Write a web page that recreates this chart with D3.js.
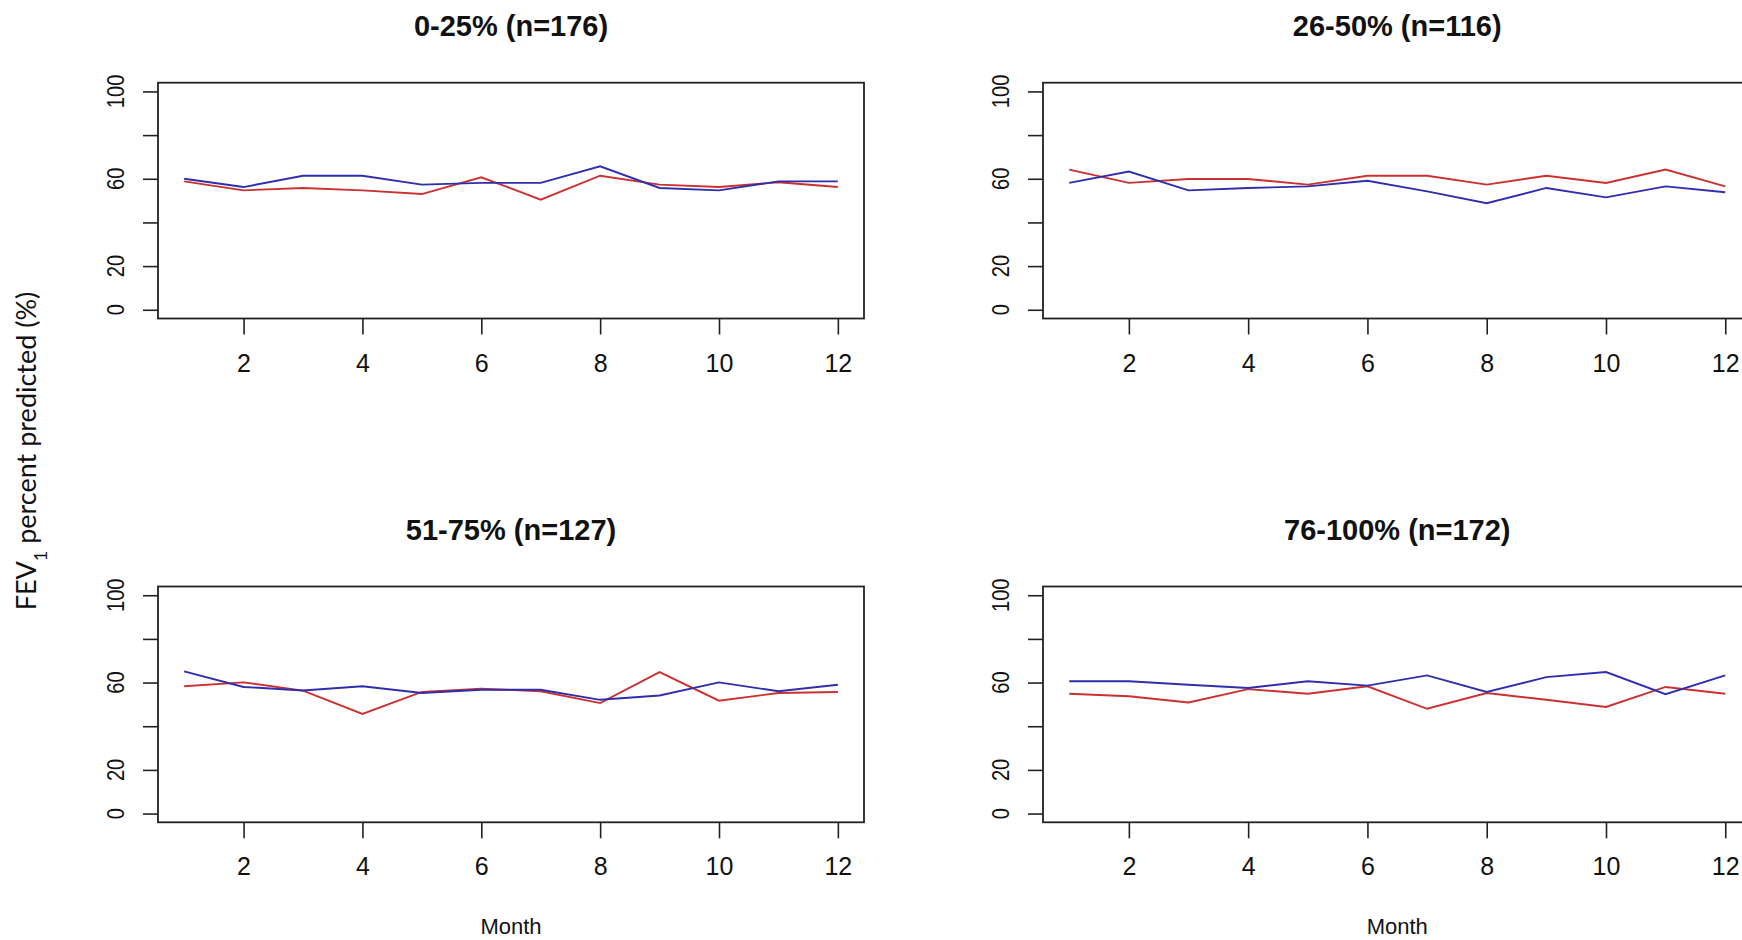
<!DOCTYPE html>
<html>
<head>
<meta charset="utf-8">
<script src="https://cdn.jsdelivr.net/npm/d3@7"></script>
<style>
  body { margin: 0; background: #fff; }
  svg { display: block; }
  text { font-family: "Liberation Sans", Arial, sans-serif; fill: #111; }
</style>
</head>
<body>
<svg id="chart" width="1742" height="940"></svg>
<script>
// months on the x axis
const months = [1, 2, 3, 4, 5, 6, 7, 8, 9, 10, 11, 12];
const xTicks = [2, 4, 6, 8, 10, 12];
const yTicks = [0, 20, 40, 60, 80, 100];
const yTickLabels = [0, 20, 60, 100]; // R drops the ones that would overlap

const titles = ["0-25% (n=176)", "26-50% (n=116)", "51-75% (n=127)", "76-100% (n=172)"];

// FEV1 % predicted
const q1Red  = [58.8, 54.7, 55.8, 54.7, 53.0, 60.7, 50.4, 61.4, 57.3, 56.2, 58.4, 56.2];
const q1Blue = [60.0, 56.2, 61.4, 61.4, 57.3, 58.1, 58.1, 65.7, 55.8, 54.7, 58.8, 58.8];
const q2Red  = [64.2, 58.1, 59.9, 59.9, 57.3, 61.4, 61.4, 57.3, 61.4, 58.1, 64.2, 56.5];
const q2Blue = [58.1, 63.3, 54.7, 55.8, 56.5, 59.1, 54.2, 48.8, 55.8, 51.5, 56.5, 53.8];
const q3Red  = [58.3, 60.1, 56.3, 45.6, 55.7, 57.2, 56.0, 50.6, 64.8, 51.7, 55.2, 55.7];
const q3Blue = [65.1, 58.0, 56.4, 58.3, 55.2, 56.7, 56.7, 52.1, 54.1, 60.1, 56.0, 59.0];
const q4Red  = [54.9, 53.7, 50.9, 57.0, 54.9, 58.3, 48.0, 55.2, 52.1, 48.8, 58.0, 54.9];
const q4Blue = [60.6, 60.6, 59.0, 57.5, 60.6, 58.6, 63.3, 55.7, 62.5, 64.8, 54.7, 63.3];

const redCol = "#cc3030", blueCol = "#2e2eae";

const panels = [
  { title: titles[0], red: q1Red, blue: q1Blue, x0: 158, x1: 864, y0: 82.7, y1: 318.5, month: false },
  { title: titles[1], red: q2Red, blue: q2Blue, x0: 1043, x1: 1751.5, y0: 82.7, y1: 318.5, month: false },
  { title: titles[2], red: q3Red, blue: q3Blue, x0: 158, x1: 864, y0: 586.5, y1: 822.3, month: true },
  { title: titles[3], red: q4Red, blue: q4Blue, x0: 1043, x1: 1751.5, y0: 586.5, y1: 822.3, month: true }
];

const svg = d3.select("#chart");

panels.forEach(function (p) {
  // R style: 4% padding on both axes
  const x = d3.scaleLinear().domain([0.56, 12.44]).range([p.x0, p.x1]);
  const y = d3.scaleLinear().domain([-4, 104]).range([p.y1, p.y0]);
  const g = svg.append("g");
  const cx = (p.x0 + p.x1) / 2;

  // x axis
  const xAxis = g.append("g")
    .attr("transform", "translate(0," + p.y1 + ")")
    .call(d3.axisBottom(x).tickValues(xTicks).tickSize(16).tickPadding(10).tickSizeOuter(0));
  xAxis.select(".domain").remove();
  xAxis.selectAll(".tick line").attr("stroke", "#222").attr("stroke-width", 1.6);
  xAxis.selectAll(".tick text")
    .attr("font-size", 25)
    .attr("font-family", "Liberation Sans, Arial, sans-serif")
    .attr("fill", "#111")
    .attr("dy", 0)
    .attr("y", 53);

  // y axis ticks
  const yAxis = g.append("g")
    .attr("transform", "translate(" + p.x0 + ",0)")
    .call(d3.axisLeft(y).tickValues(yTicks).tickSize(15).tickFormat("").tickSizeOuter(0));
  yAxis.select(".domain").remove();
  yAxis.selectAll(".tick line").attr("stroke", "#222").attr("stroke-width", 1.6);

  // rotated y labels
  g.selectAll(".ylab")
    .data(yTickLabels)
    .enter()
    .append("text")
    .attr("class", "ylab")
    .attr("transform", function (d) {
      return "translate(" + (p.x0 - 34) + "," + y(d) + ") rotate(-90) scale(0.84,1)";
    })
    .attr("text-anchor", "middle")
    .attr("font-size", 24)
    .text(function (d) { return d; });

  // box
  g.append("rect")
    .attr("x", p.x0).attr("y", p.y0)
    .attr("width", p.x1 - p.x0).attr("height", p.y1 - p.y0)
    .attr("fill", "none").attr("stroke", "#222").attr("stroke-width", 1.8);

  const line = d3.line()
    .x(function (d, i) { return x(months[i]); })
    .y(function (d) { return y(d); });

  g.append("path").datum(p.red)
    .attr("d", line).attr("fill", "none")
    .attr("stroke", redCol).attr("stroke-width", 1.9);
  g.append("path").datum(p.blue)
    .attr("d", line).attr("fill", "none")
    .attr("stroke", blueCol).attr("stroke-width", 1.9);

  // title
  g.append("text")
    .attr("x", cx).attr("y", p.y0 - 47)
    .attr("text-anchor", "middle")
    .attr("font-size", 29)
    .attr("font-weight", "bold")
    .text(p.title);

  if (p.month) {
    g.append("text")
      .attr("x", cx).attr("y", 934)
      .attr("text-anchor", "middle")
      .attr("font-size", 22)
      .text("Month");
  }
});

// shared y label
const yl = svg.append("text")
  .attr("transform", "translate(36,451) rotate(-90)")
  .attr("text-anchor", "middle")
  .attr("font-size", 27)
  .style("font-family", "Lato, 'Open Sans', sans-serif")
  .style("fill", "#111");
yl.append("tspan").text("FEV");
yl.append("tspan").attr("baseline-shift", "sub").attr("font-size", 18).text("1");
yl.append("tspan").text(" percent predicted (%)");
</script>
</body>
</html>
